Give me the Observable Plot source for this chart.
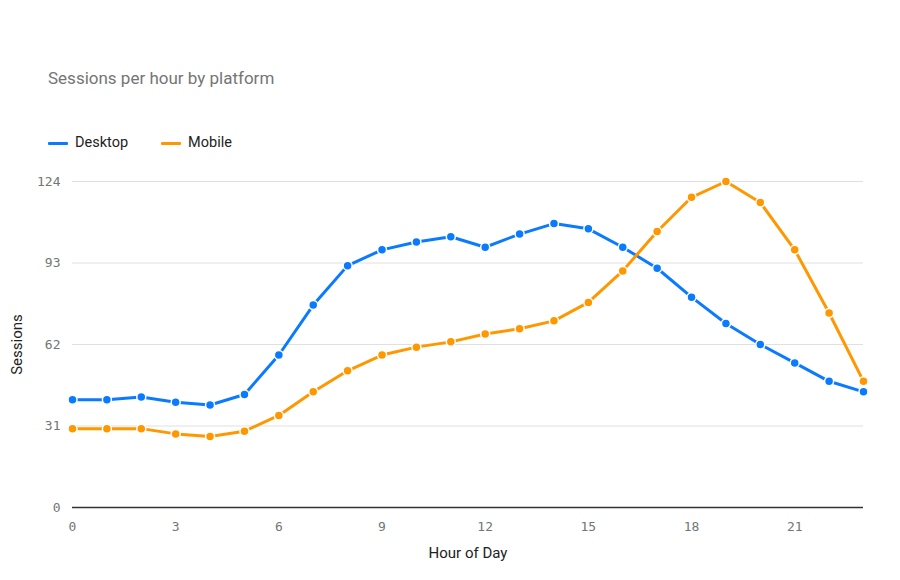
<!DOCTYPE html>
<html>
<head>
<meta charset="utf-8">
<script src="https://cdn.jsdelivr.net/npm/d3@7"></script>
<script src="https://cdn.jsdelivr.net/npm/@observablehq/plot@0.6"></script>
<style>
  body { margin: 0; background: #fff; font-family: Roboto, "Noto Sans", sans-serif; }
  #wrap { width: 900px; height: 580px; position: relative; overflow: hidden; }
  #title { padding: 66px 0 0 48px; height: 24px; line-height: 24px; font-size: 17px; color: #757575; }
  #legend { margin-top: 41px; height: 24px; line-height: 24px; padding-left: 48px; font-size: 14.5px; color: #222; display: flex; align-items: center; }
  .item { display: flex; align-items: center; margin-right: 33px; }
  .sw { width: 20px; height: 3px; border-radius: 1px; margin-right: 7px; }
  svg [aria-label="x-axis tick label"] text, svg [aria-label="y-axis tick label"] text { font-family: "DejaVu Sans Mono", monospace; }
  svg [aria-label="x-axis label"] text, svg [aria-label="y-axis label"] text { font-size: 15px; fill: #222; }
</style>
</head>
<body>
<div id="wrap">
  <div id="title">Sessions per hour by platform</div>
  <div id="legend"></div>
  <div id="chart"></div>
</div>
<script>
const hours = d3.range(0, 24);
const seriesNames = ["Desktop", "Mobile"];
const seriesColors = ["#0a7bff", "#ff9800"];
const desktop = [41, 41, 42, 40, 39, 43, 58, 77, 92, 98, 101, 103, 99, 104, 108, 106, 99, 91, 80, 70, 62, 55, 48, 44];
const mobile  = [30, 30, 30, 28, 27, 29, 35, 44, 52, 58, 61, 63, 66, 68, 71, 78, 90, 105, 118, 124, 116, 98, 74, 48];
const yTicks = [0, 31, 62, 93, 124];
const xTicks = [0, 3, 6, 9, 12, 15, 18, 21];

const rows = [];
hours.forEach((h, i) => {
  rows.push({hour: h, value: desktop[i], series: seriesNames[0]});
});
hours.forEach((h, i) => {
  rows.push({hour: h, value: mobile[i], series: seriesNames[1]});
});

// legend
const legend = document.getElementById("legend");
seriesNames.forEach((n, i) => {
  const it = document.createElement("div");
  it.className = "item";
  it.innerHTML = `<span class="sw" style="background:${seriesColors[i]}"></span><span>${n}</span>`;
  legend.appendChild(it);
});

const marks = [
  Plot.gridY(yTicks, {stroke: "#e0e0e0", strokeOpacity: 1, strokeWidth: 1}),
  Plot.axisY(yTicks, {tickSize: 0, tickPadding: 12, fontSize: 13, fill: "#757575",
    label: "Sessions", labelAnchor: "center", labelOffset: 61, labelArrow: "none"}),
  Plot.axisX(xTicks, {tickSize: 0, tickPadding: 14, fontSize: 13, fill: "#757575",
    label: "Hour of Day", labelAnchor: "center", labelOffset: 50, labelArrow: "none"}),
  Plot.ruleY([0], {stroke: "#333", strokeWidth: 1.5}),
];
seriesNames.forEach(n => {
  const d = rows.filter(r => r.series === n);
  marks.push(Plot.line(d, {x: "hour", y: "value", stroke: "series", strokeWidth: 3}));
  marks.push(Plot.dot(d, {x: "hour", y: "value", fill: "series", r: 4.5, stroke: "#fff", strokeWidth: 1.5}));
});

const chart = Plot.plot({
  width: 900,
  height: 425,
  marginTop: 26,
  marginBottom: 73,
  marginLeft: 72,
  marginRight: 37,
  style: {fontFamily: "Roboto, 'Noto Sans', sans-serif", fontSize: "14px", color: "#222", background: "#fff"},
  x: {domain: [0, 23]},
  y: {domain: [0, 124]},
  color: {domain: seriesNames, range: seriesColors},
  marks
});
document.getElementById("chart").appendChild(chart);
</script>
</body>
</html>
